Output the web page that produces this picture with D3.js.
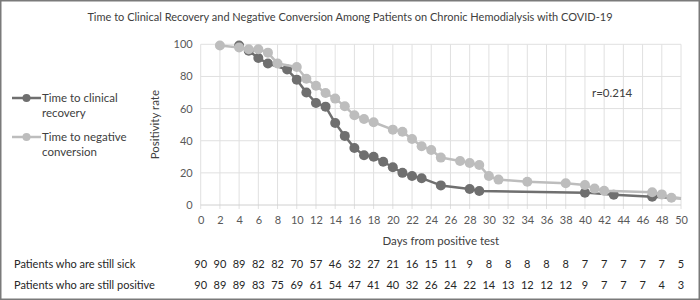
<!DOCTYPE html>
<html>
<head>
<meta charset="utf-8">
<script src="https://cdn.jsdelivr.net/npm/d3@7"></script>
<style>
  body { margin: 0; background: #fff; }
  svg { display: block; font-family: Lato, "Open Sans", sans-serif; }
</style>
</head>
<body>
<svg id="chart" width="700" height="300"></svg>
<script>
const title = 'Time to Clinical Recovery and Negative Conversion Among Patients on Chronic Hemodialysis with COVID-19';

// time to clinical recovery (dark)
const recoveryDays = [4, 5, 6, 7, 9, 10, 11, 12, 13, 14, 15, 16, 17, 18, 19, 20, 21, 22, 23, 25, 28, 29, 40, 43, 47, 50];
const recoveryRate = [99.2, 96, 91.5, 88, 84.3, 78, 70, 63.5, 61.2, 51, 43, 35.5, 31, 30, 26.9, 23.5, 20, 18, 16.7, 12.2, 10, 8.7, 7.7, 6.4, 5.2, 4.2];

// time to negative conversion (light)
const negativeDays = [2, 4, 5, 6, 7, 8, 10, 11, 12, 13, 14, 15, 16, 17, 18, 20, 21, 22, 23, 24, 25, 27, 28, 29, 30, 31, 34, 38, 40, 41, 42, 47, 48, 49, 50];
const negativeRate = [99.2, 98, 96.9, 96.9, 94.8, 88, 85.9, 78.6, 74.2, 69.7, 66.2, 61.4, 55.8, 53.5, 51.5, 46.9, 45.6, 41.1, 36.6, 34.2, 29.5, 27.4, 26.1, 24.9, 18, 15.8, 14.5, 13.5, 12.4, 10.2, 8.9, 7.9, 6.6, 4.5, 4.2];

// number-at-risk table, one value per x tick
const tableDays = d3.range(0, 51, 2);
const stillSick = [90, 90, 89, 82, 82, 70, 57, 46, 32, 27, 21, 16, 15, 11, 9, 8, 8, 8, 8, 8, 7, 7, 7, 7, 7, 5];
const stillPositive = [90, 89, 89, 83, 75, 69, 61, 54, 47, 41, 40, 32, 26, 24, 22, 14, 13, 12, 12, 12, 9, 7, 7, 7, 4, 3];

const yTicks = [0, 20, 40, 60, 80, 100];

const darkCol = '#6f6f6f';
const lightCol = '#bdbdbd';

const svg = d3.select('#chart');

svg.append('rect')
  .attr('x', 0.75).attr('y', 0.75)
  .attr('width', 698.5).attr('height', 298.5)
  .attr('fill', '#fff')
  .attr('stroke', '#7a7a7a')
  .attr('stroke-width', 1.5);

svg.append('text')
  .attr('x', 350).attr('y', 21)
  .attr('text-anchor', 'middle')
  .attr('font-size', 11)
  .attr('fill', '#404040')
  .text(title);

const x = d3.scaleLinear().domain([0, 50]).range([200.7, 681]);
const y = d3.scaleLinear().domain([0, 100]).range([205, 44.3]);

// grid
const grid = svg.append('g');
grid.selectAll('.vg').data(tableDays).enter().append('line')
  .attr('x1', d => x(d)).attr('x2', d => x(d))
  .attr('y1', y(100)).attr('y2', y(0) + 4)
  .attr('stroke', '#e0e0e0').attr('stroke-width', 1);
grid.selectAll('.hg').data(yTicks).enter().append('line')
  .attr('x1', x(0)).attr('x2', x(50))
  .attr('y1', d => y(d)).attr('y2', d => y(d))
  .attr('stroke', d => d === 0 ? '#d0d0d0' : '#e0e0e0').attr('stroke-width', 1);

// axes labels
const yAxis = svg.append('g')
  .attr('transform', `translate(${x(0) - 8},0)`)
  .call(d3.axisLeft(y).tickValues(yTicks).tickSize(0).tickPadding(0));
yAxis.select('.domain').remove();
yAxis.selectAll('text')
  .attr('font-family', 'Lato, sans-serif')
  .attr('font-size', 11).attr('fill', '#595959');

const xAxis = svg.append('g')
  .attr('transform', `translate(0,${y(0) + 11})`)
  .call(d3.axisBottom(x).tickValues(tableDays).tickSize(0).tickPadding(0));
xAxis.select('.domain').remove();
xAxis.selectAll('text')
  .attr('font-family', 'Lato, sans-serif')
  .attr('font-size', 11).attr('fill', '#595959');

svg.append('text')
  .attr('transform', `translate(159,${(y(0) + y(100)) / 2}) rotate(-90)`)
  .attr('text-anchor', 'middle')
  .attr('font-size', 11.5).attr('fill', '#404040')
  .text('Positivity rate');

svg.append('text')
  .attr('x', (x(0) + x(50)) / 2).attr('y', 245)
  .attr('text-anchor', 'middle')
  .attr('font-size', 11.5).attr('fill', '#404040')
  .text('Days from positive test');

svg.append('text')
  .attr('x', 592).attr('y', 97)
  .attr('font-size', 11.5).attr('fill', '#404040')
  .text('r=0.214');

// series
const line = d3.line().x(d => x(d[0])).y(d => y(d[1]));
const series = [
  { name: 'neg', pts: d3.zip(negativeDays, negativeRate), col: lightCol },
  { name: 'rec', pts: d3.zip(recoveryDays, recoveryRate), col: darkCol }
];
// draw light on top of dark
[series[1], series[0]].forEach(s => {
  svg.append('path')
    .datum(s.pts)
    .attr('d', line)
    .attr('fill', 'none')
    .attr('stroke', s.col)
    .attr('stroke-width', 2.5)
    .attr('stroke-linejoin', 'round');
  svg.append('g').selectAll('circle')
    .data(s.pts.filter(d => d[0] < 50))
    .enter().append('circle')
    .attr('cx', d => x(d[0])).attr('cy', d => y(d[1]))
    .attr('r', 5)
    .attr('fill', s.col);
});

// legend
const legend = [
  { col: darkCol, lines: ['Time to clinical', 'recovery'], y: 98 },
  { col: lightCol, lines: ['Time to negative', 'conversion'], y: 137 }
];
legend.forEach(l => {
  const g = svg.append('g');
  g.append('line')
    .attr('x1', 12).attr('x2', 41).attr('y1', l.y).attr('y2', l.y)
    .attr('stroke', l.col).attr('stroke-width', 2.5);
  g.append('circle').attr('cx', 26.5).attr('cy', l.y).attr('r', 4).attr('fill', l.col);
  l.lines.forEach((t, i) => {
    g.append('text')
      .attr('x', 42).attr('y', l.y + 4 + i * 15)
      .attr('font-size', 11.5).attr('fill', '#404040')
      .text(t);
  });
});

// table
const rows = [
  { label: 'Patients who are still sick', vals: stillSick, y: 268 },
  { label: 'Patients who are still positive', vals: stillPositive, y: 289 }
];
rows.forEach(r => {
  svg.append('text')
    .attr('x', 14).attr('y', r.y)
    .attr('font-size', 11).attr('fill', '#262626')
    .text(r.label);
  svg.append('g').selectAll('text')
    .data(r.vals).enter().append('text')
    .attr('x', (d, i) => x(tableDays[i]))
    .attr('y', r.y)
    .attr('text-anchor', 'middle')
    .attr('font-size', 11).attr('fill', '#262626')
    .text(d => d);
});
</script>
</body>
</html>
